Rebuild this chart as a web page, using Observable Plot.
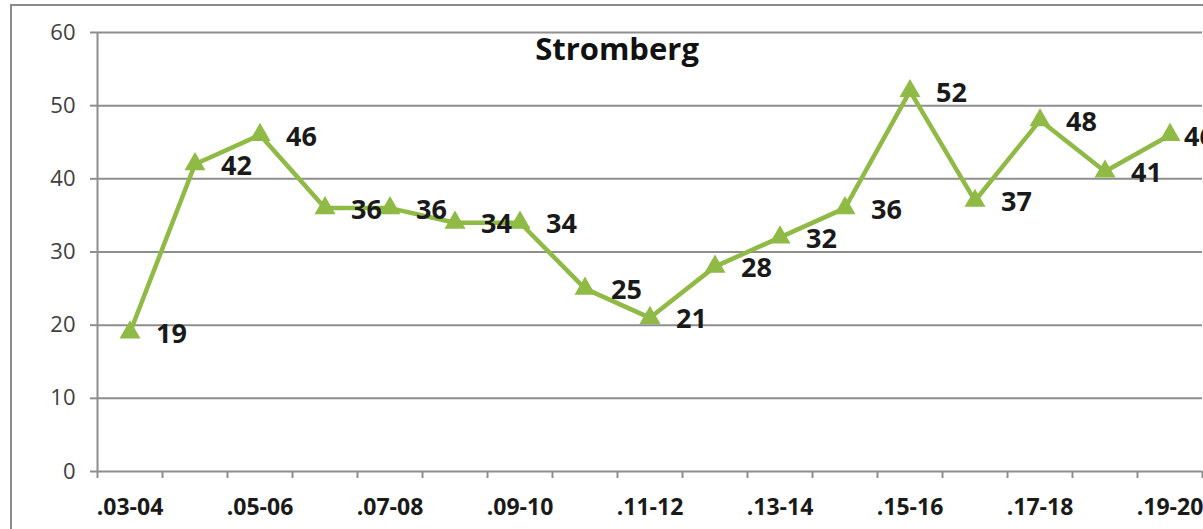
<!DOCTYPE html>
<html><head><meta charset="utf-8">
<script src="https://cdn.jsdelivr.net/npm/d3@7"></script>
<script src="https://cdn.jsdelivr.net/npm/@observablehq/plot@0.6"></script>
<style>
html,body{margin:0;padding:0;background:#fff;overflow:hidden}
#wrap{position:relative;width:1203px;height:529px;overflow:hidden}
#chart{position:absolute;left:0;top:0}
#border{position:absolute;left:10px;top:4px;width:1300px;height:600px;border:2px solid #8c8c8c;box-sizing:border-box;pointer-events:none}
</style></head><body>
<div id="wrap"><div id="chart"></div><div id="border"></div></div>
<script>
const title = "Stromberg";
const seasons = [".03-04", ".04-05", ".05-06", ".06-07", ".07-08", ".08-09", ".09-10", ".10-11", ".11-12", ".12-13", ".13-14", ".14-15", ".15-16", ".16-17", ".17-18", ".18-19", ".19-20"];
const values = [19, 42, 46, 36, 36, 34, 34, 25, 21, 28, 32, 36, 52, 37, 48, 41, 46];
const yTicks = [0, 10, 20, 30, 40, 50, 60];

const data = seasons.map((s, i) => ({i, season: s, value: values[i]}));
const labelIdx = seasons.map((s, i) => i).filter(i => i % 2 === 0);
const boundaries = d3.range(seasons.length + 1).map(i => i - 0.5);
const lastI = seasons.length - 1;

const green = "#8eba45";
const grid = "#8e8e8e";
const font = "'Open Sans', sans-serif";
const labelStyle = {x: "i", y: "value", text: d => String(d.value), textAnchor: "start", dy: 2, fontSize: 27, fontWeight: "bold", fill: "#1a1a1a"};

const chart = Plot.plot({
  width: 1203, height: 529,
  marginLeft: 97, marginRight: 1, marginTop: 32, marginBottom: 58,
  style: {fontFamily: font, background: "transparent", overflow: "visible"},
  x: {type: "linear", domain: [-0.5, seasons.length - 0.5], label: null},
  y: {domain: [0, 60], label: null},
  marks: [
    Plot.ruleY(yTicks, {stroke: grid, strokeWidth: 2}),
    Plot.ruleX([-0.5], {stroke: grid, strokeWidth: 2}),
    Plot.axisY({ticks: yTicks, label: null, tickSize: 7, tickPadding: 15, stroke: grid, strokeWidth: 2, fill: "#404040", fontSize: 22, tickFormat: d => String(d)}),
    Plot.axisX({ticks: boundaries, label: null, tickSize: 7, stroke: grid, strokeWidth: 2, tickFormat: () => ""}),
    Plot.axisX({ticks: labelIdx, label: null, tickSize: 0, tickPadding: 27, tickFormat: i => seasons[i], fontSize: 23, fontWeight: "bold", fill: "#1a1a1a"}),
    Plot.line(data, {x: "i", y: "value", stroke: green, strokeWidth: 4.5, strokeLinejoin: "miter"}),
    Plot.dot(data, {x: "i", y: "value", symbol: "triangle", r: 7.8, fill: green, stroke: "none"}),
    Plot.text(data.filter(d => d.i !== lastI), {...labelStyle, dx: 26}),
    Plot.text(data.filter(d => d.i === lastI), {...labelStyle, dx: 14}),
    Plot.text([title], {frameAnchor: "top", dx: -33, dy: 5, fontSize: 31, fontWeight: "bold", fill: "#111"})
  ]
});
document.getElementById("chart").appendChild(chart);
</script>
</body></html>
